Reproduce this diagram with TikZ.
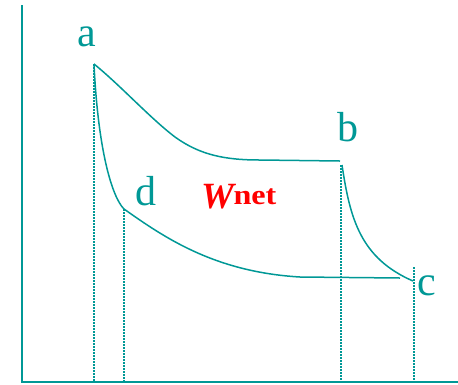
\documentclass[tikz,border=0pt]{standalone}
\usepackage{fontspec}
\setmainfont{Liberation Serif}
\definecolor{tealc}{RGB}{0,152,150}
\definecolor{redc}{RGB}{255,0,0}
\begin{document}
\begin{tikzpicture}[x=1pt,y=-1pt,
  curve/.style={draw=tealc,line width=1.5pt},
  axisline/.style={draw=tealc,line width=2.2pt},
  guide/.style={draw=tealc,line width=1.1pt,dash pattern=on 2pt off 1pt},
  lbl/.style={text=tealc,font=\fontsize{42}{50}\selectfont,anchor=base,inner sep=0pt}]
\useasboundingbox (0,0) rectangle (458,384);
% axes
\coordinate (ytop) at (22,5);
\coordinate (O) at (22,382);
\coordinate (xend) at (458,382);
\draw[axisline] (ytop) -- (O) -- (xend);
% state points
\coordinate (A) at (94,64);
\coordinate (B1) at (340,161);
\coordinate (B) at (342,165);
\coordinate (C) at (413,281);
\coordinate (C1) at (400,278);
\coordinate (D) at (124,209);
\coordinate (Ctop) at (414,267);
\coordinate (Btop) at (341,165);
% feet of guide lines
\coordinate (Af) at (94,382);
\coordinate (Df) at (124,382);
\coordinate (Bf) at (341,382);
\coordinate (Cf) at (414,382);
% guides
\draw[guide] (A) -- (Af);
\draw[guide] (D) -- (Df);
\draw[guide] (Btop) -- (Bf);
\draw[guide] (Ctop) -- (Cf);
% curves
\draw[curve] (A) .. controls (120,85) and (150,118) .. (175,137)
  .. controls (200,155) and (225,160) .. (260,160) -- (B1);
\draw[curve] (B) .. controls (350,218) and (360,258) .. (C);
\draw[curve] (D) .. controls (165,238) and (215,272) .. (300,277) -- (C1);
\draw[curve] (D) .. controls (112,197) and (98,150) .. (A);
% labels
\node[lbl] (la) at (87,46) {a};
\node[lbl] (lb) at (348,141) {b};
\node[lbl] (lc) at (427,295) {c};
\node[lbl] (ld) at (146,205) {d};
\node[text=redc,anchor=base west,inner sep=0pt,font=\fontsize{37}{42}\selectfont\bfseries\itshape] (W) at (201,208) {W};
\node[text=redc,anchor=base west,inner sep=0pt,font=\fontsize{28}{32}\selectfont\bfseries] (net) at ([xshift=-1pt,yshift=4pt]W.base east) {\scalebox{1.15}[1]{net}};
\end{tikzpicture}
\end{document}
